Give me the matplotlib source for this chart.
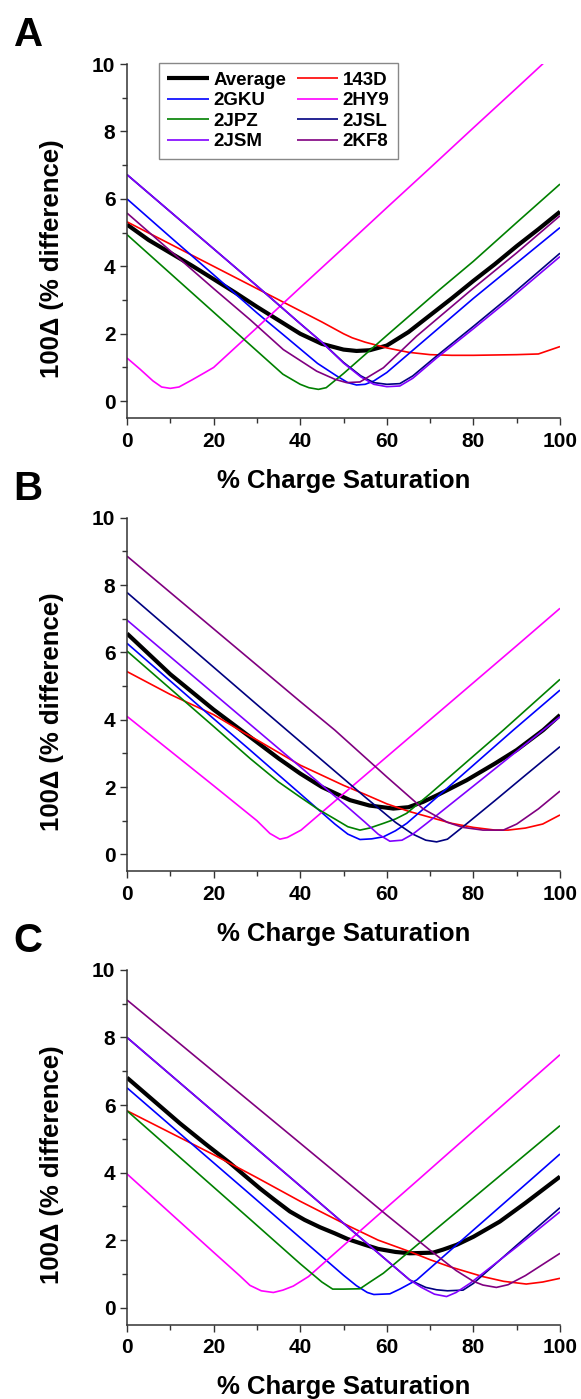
import matplotlib
matplotlib.use('Agg')
import matplotlib.pyplot as plt
from matplotlib.ticker import MultipleLocator

plt.rcParams['font.family'] = ['Liberation Sans', 'DejaVu Sans']
plt.rcParams['font.weight'] = 'bold'

# series names and line colours (plot order)
names = ['Average', '143D', '2GKU', '2HY9', '2JPZ', '2JSL', '2JSM', '2KF8']
colors = ['#000000', '#FF0000', '#0000FF', '#FF00FF', '#008000', '#000080', '#8000FF', '#800080']

# ---- panel A : (% charge saturation, 100*delta) ----
a_average = [(0, 5.24), (5, 4.78), (10, 4.4), (15, 4.02), (20, 3.62), (25, 3.22), (30, 2.8),
             (35, 2.4), (40, 2.0), (45, 1.7), (50, 1.53), (53, 1.49), (56, 1.51), (60, 1.65),
             (65, 2.05), (70, 2.55), (75, 3.05), (80, 3.57), (85, 4.07), (90, 4.6), (95, 5.1), (100, 5.62)]
a_143d = [(0, 5.32), (10, 4.66), (20, 4.0), (30, 3.34), (40, 2.68), (45, 2.35), (50, 2.0), (52, 1.88),
          (55, 1.75), (60, 1.58), (65, 1.45), (70, 1.38), (75, 1.36), (80, 1.36), (90, 1.38),
          (95, 1.4), (100, 1.62)]
a_2gku = [(0, 6.0), (10, 4.87), (20, 3.75), (30, 2.62), (36, 1.98), (40, 1.55), (44, 1.12), (48.4, 0.75),
          (51, 0.55), (53, 0.48), (55, 0.5), (57, 0.6), (60, 0.85), (70, 1.95), (80, 3.05), (90, 4.1),
          (100, 5.15)]
a_2hy9 = [(0, 1.28), (3, 0.95), (6, 0.6), (8, 0.42), (10, 0.38), (12, 0.42), (15, 0.63), (18, 0.85),
          (20, 1.0), (30, 2.18), (40, 3.37), (50, 4.55), (60, 5.74), (70, 6.92), (80, 8.11),
          (90, 9.29), (100, 10.48)]
a_2jpz = [(0, 4.94), (10, 3.79), (20, 2.64), (30, 1.49), (36, 0.8), (40, 0.5), (42, 0.4), (44.2, 0.35),
          (46, 0.4), (50, 0.82), (60, 1.95), (72.2, 3.31), (80, 4.15), (90, 5.3), (100, 6.44)]
a_2jsl = [(0, 6.72), (10, 5.62), (20, 4.52), (30, 3.42), (40, 2.3), (45, 1.75), (50, 1.15), (54, 0.75),
          (57, 0.55), (60, 0.5), (63, 0.52), (66, 0.75), (71.5, 1.34), (80, 2.22), (88.4, 3.11),
          (100, 4.39)]
a_2jsm = [(0, 6.72), (10, 5.62), (20, 4.52), (30, 3.42), (40, 2.3), (45, 1.75), (50, 1.13), (54, 0.72),
          (57, 0.5), (60, 0.43), (63, 0.45), (66, 0.68), (71.5, 1.28), (80, 2.15), (88.4, 3.03),
          (100, 4.29)]
a_2kf8 = [(0, 5.58), (10, 4.46), (20, 3.34), (28.4, 2.42), (36.1, 1.53), (43.8, 0.89), (48, 0.65),
          (50.7, 0.55), (53.8, 0.57), (59.2, 0.99), (66.9, 1.93), (79.6, 3.31), (90, 4.4), (100, 5.5)]

# ---- panel B ----
b_average = [(0, 6.56), (10, 5.35), (20, 4.3), (28.4, 3.49), (35, 2.85), (40, 2.4), (45, 2.0),
             (51.5, 1.61), (56, 1.45), (61.5, 1.36), (65, 1.4), (68.4, 1.56), (72, 1.78), (78.4, 2.2),
             (85, 2.7), (90, 3.1), (96.1, 3.69), (100, 4.14)]
b_143d = [(0, 5.43), (10, 4.75), (20, 4.15), (26.5, 3.65), (30, 3.4), (40, 2.65), (50, 2.05), (55, 1.78),
          (60, 1.5), (65, 1.28), (70, 1.1), (75, 0.92), (80, 0.8), (85, 0.72), (88, 0.72), (92, 0.78),
          (96, 0.9), (100, 1.17)]
b_2gku = [(0, 6.27), (10, 5.15), (20, 4.03), (28.4, 3.1), (40, 1.8), (48, 0.9), (51, 0.6), (53.8, 0.44),
          (56.5, 0.46), (59.2, 0.52), (62, 0.7), (64.6, 0.92), (70, 1.52), (80, 2.65), (89.2, 3.69),
          (100, 4.88)]
b_2hy9 = [(0, 4.1), (10, 3.07), (20, 2.04), (30, 1.0), (33, 0.62), (35.3, 0.45), (37, 0.5), (40.2, 0.72),
          (50, 1.8), (60, 2.9), (70, 4.0), (80, 5.1), (90, 6.2), (100, 7.31)]
b_2jpz = [(0, 6.04), (10, 4.92), (20, 3.8), (28.4, 2.85), (35, 2.15), (40, 1.7), (44, 1.35), (48, 1.05),
          (51, 0.82), (53.8, 0.72), (56, 0.78), (59.2, 0.92), (62, 1.05), (64.6, 1.22), (70, 1.8),
          (80, 2.92), (86.9, 3.69), (100, 5.2)]
b_2jsl = [(0, 7.78), (10, 6.67), (20, 5.56), (30, 4.45), (36.9, 3.69), (45, 2.8), (55, 1.7), (62, 0.95),
          (66, 0.6), (69, 0.42), (71.5, 0.37), (74, 0.45), (77.6, 0.82), (85, 1.6), (92, 2.35), (100, 3.2)]
b_2jsm = [(0, 6.96), (10, 5.87), (20, 4.78), (30, 3.69), (40, 2.6), (50, 1.51), (55, 0.95), (58, 0.6),
          (60.7, 0.39), (63.5, 0.42), (66, 0.6), (69.2, 0.92), (80, 2.03), (90, 3.06), (100, 4.09)]
b_2kf8 = [(0, 8.86), (10, 7.78), (20, 6.7), (30, 5.62), (40, 4.54), (48, 3.69), (60, 2.3), (68.4, 1.35),
          (74, 0.95), (77.6, 0.8), (82.2, 0.72), (86.9, 0.72), (90, 0.9), (95, 1.35), (100, 1.88)]

# ---- panel C ----
c_average = [(0, 6.81), (12.2, 5.46), (18, 4.86), (23.8, 4.28), (27, 3.93), (30.7, 3.53), (34, 3.2),
             (37.6, 2.85), (41, 2.6), (44.6, 2.38), (48, 2.2), (51, 2.03), (55, 1.86), (58, 1.74),
             (62, 1.65), (65.3, 1.61), (70.7, 1.63), (73, 1.72), (76.1, 1.86), (80, 2.1), (86.1, 2.55),
             (92, 3.1), (100, 3.88)]
c_143d = [(0, 5.83), (10, 5.18), (20, 4.53), (30, 3.85), (40, 3.15), (51.5, 2.4), (58, 2.0), (65.3, 1.66),
          (70, 1.42), (74.6, 1.21), (82.2, 0.92), (87, 0.78), (92.2, 0.7), (96, 0.76), (100, 0.87)]
c_2gku = [(0, 6.51), (10, 5.4), (20, 4.29), (28.4, 3.36), (40, 2.07), (50, 0.96), (53, 0.65), (55.5, 0.45),
          (57, 0.39), (60.7, 0.41), (63, 0.55), (66.9, 0.82), (80, 2.3), (93, 3.76), (100, 4.55)]
c_2hy9 = [(0, 3.96), (10, 2.8), (20, 1.64), (26, 0.95), (28.4, 0.66), (31, 0.5), (33.8, 0.45), (36, 0.52),
          (38.4, 0.64), (41.9, 0.92), (50, 1.84), (60, 2.97), (67.2, 3.78), (80, 5.23), (90, 6.36),
          (100, 7.49)]
c_2jpz = [(0, 5.83), (10, 4.7), (20, 3.57), (28.4, 2.62), (40, 1.3), (45, 0.76), (47.5, 0.55), (50, 0.55),
          (53.8, 0.56), (56, 0.75), (59.2, 1.02), (70, 2.18), (85.7, 3.86), (100, 5.39)]
c_2jsl = [(0, 8.0), (10, 6.9), (20, 5.8), (30, 4.7), (38.4, 3.78), (50, 2.5), (60, 1.4), (65.3, 0.82),
          (69, 0.6), (71.5, 0.53), (74, 0.5), (77.6, 0.52), (80, 0.72), (90, 1.85), (100, 2.96)]
c_2jsm = [(0, 8.0), (10, 6.9), (20, 5.8), (30, 4.7), (38.4, 3.78), (50, 2.5), (60, 1.4), (65.3, 0.82),
          (68, 0.6), (71, 0.4), (73.8, 0.33), (76, 0.45), (79.2, 0.72), (90, 1.8), (100, 2.84)]
c_2kf8 = [(0, 9.11), (10, 8.05), (20, 6.99), (30, 5.93), (40, 4.87), (49.6, 3.85), (60, 2.74), (70, 1.7),
          (76, 1.1), (80, 0.78), (82.2, 0.67), (85.3, 0.6), (88, 0.68), (92, 0.95), (96, 1.28), (100, 1.61)]

panels = [
    ('A', [a_average, a_143d, a_2gku, a_2hy9, a_2jpz, a_2jsl, a_2jsm, a_2kf8]),
    ('B', [b_average, b_143d, b_2gku, b_2hy9, b_2jpz, b_2jsl, b_2jsm, b_2kf8]),
    ('C', [c_average, c_143d, c_2gku, c_2hy9, c_2jpz, c_2jsl, c_2jsm, c_2kf8]),
]

fig = plt.figure(figsize=(5.81, 13.99), dpi=100)
axes_rects = [
    [0.2186, 0.7012, 0.7453, 0.2530],
    [0.2186, 0.3773, 0.7453, 0.2526],
    [0.2186, 0.0532, 0.7453, 0.2535],
]

for (letter, curves), rect in zip(panels, axes_rects):
    ax = fig.add_axes(rect)
    lines = []
    for name, col, pts in zip(names, colors, curves):
        xs = [p[0] for p in pts]
        ys = [p[1] for p in pts]
        lw = 3.0 if name == 'Average' else 1.2
        ln, = ax.plot(xs, ys, color=col, lw=lw, label=name, solid_capstyle='butt')
        lines.append(ln)

    ax.set_xlim(0, 100)
    ax.set_ylim(-0.5, 10)
    ax.spines['top'].set_visible(False)
    ax.spines['right'].set_visible(False)
    for s in ['left', 'bottom']:
        ax.spines[s].set_linewidth(1.1)
        ax.spines[s].set_color('#333333')
    ax.xaxis.set_major_locator(MultipleLocator(20))
    ax.xaxis.set_minor_locator(MultipleLocator(10))
    ax.yaxis.set_major_locator(MultipleLocator(2))
    ax.yaxis.set_minor_locator(MultipleLocator(1))
    ax.tick_params(which='major', direction='out', length=5.3, width=1.0, color='#333333',
                   labelsize=15, pad=3.0)
    ax.tick_params(which='minor', direction='out', length=3.4, width=1.0, color='#333333')
    ax.tick_params(axis='x', which='major', pad=4.5)
    for lab in ax.get_xticklabels() + ax.get_yticklabels():
        lab.set_fontweight('bold')

    ax.set_xlabel('% Charge Saturation', fontsize=18.5, fontweight='bold')
    ax.xaxis.set_label_coords(0.5, -0.143)
    ax.xaxis.label.set_va('top')
    ax.set_ylabel('100Δ (% difference)', fontsize=18.5, fontweight='bold')
    ax.yaxis.set_label_coords(-0.145, 0.45)

    ax.text(-0.262, 1.051, letter, transform=ax.transAxes, fontsize=29, fontweight='bold',
            ha='left', va='baseline')

    if letter == 'A':
        # two-column legend, filled row by row
        order = [0, 2, 4, 6, 1, 3, 5, 7]
        leg = ax.legend([lines[i] for i in order], [names[i] for i in order], ncol=2,
                        loc='upper left', bbox_to_anchor=(0.074, 1.003), borderaxespad=0,
                        fontsize=13.5, handlelength=2.2, handletextpad=0.25, columnspacing=0.55,
                        labelspacing=0.18, borderpad=0.45, fancybox=False, framealpha=1)
        leg.get_frame().set_edgecolor('#888888')
        leg.get_frame().set_linewidth(1.0)
        for t in leg.get_texts():
            t.set_fontweight('bold')

fig.savefig('out.png', dpi=100)
